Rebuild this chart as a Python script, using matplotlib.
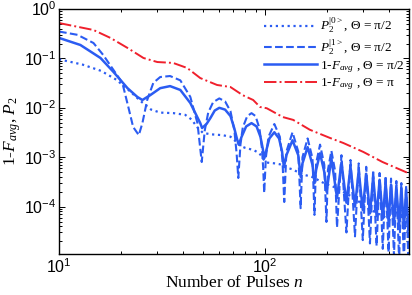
import numpy as np
import matplotlib
matplotlib.use('Agg')
import matplotlib.pyplot as plt
from matplotlib.ticker import FixedLocator, FuncFormatter, NullFormatter

plt.rcParams['mathtext.fontset'] = 'custom'
plt.rcParams['mathtext.rm'] = 'Liberation Serif'
plt.rcParams['mathtext.it'] = 'Liberation Serif:italic'
plt.rcParams['mathtext.sf'] = 'Liberation Sans'
plt.rcParams['font.family'] = ['Liberation Serif', 'DejaVu Serif']

# ---- data ----
n_p0 = [10, 13, 16, 19, 22, 25, 28, 31, 36, 41, 44, 47, 50, 55, 62, 68, 72, 76, 80, 88,
        94, 98, 102, 112, 118, 122, 126, 136, 143, 151, 162, 172, 180, 190, 200, 212,
        225, 250, 267, 290, 322, 350, 375, 404, 430, 460, 500]
p0 = [0.096, 0.075, 0.056, 0.037, 0.022, 0.0135, 0.0092, 0.0080, 0.0078, 0.0072, 0.0058,
      0.0040, 0.0031, 0.0029, 0.0028, 0.0026, 0.0021, 0.0017, 0.00155, 0.0014, 0.0012,
      0.00092, 0.00078, 0.00075, 0.00072, 0.00068, 0.00062, 0.00057, 0.00051, 0.00045,
      0.00042, 0.00039, 0.00035, 0.00031, 0.00028, 0.00026, 0.00023, 0.00018, 0.000156,
      0.00012, 8.8e-5, 7.4e-5, 6.4e-5, 5.4e-5, 4.6e-5, 4.0e-5, 3.4e-5]

n_p1 = [10, 12.3, 14.7, 16.4, 18.4, 20.3, 21.7, 22.9, 24.4, 25.4, 26.8, 28.7, 31, 34.6,
        38.8, 43.4, 47, 49.3, 51, 53, 56, 60, 64, 68, 71, 72.8, 74.2,
        76, 78, 82, 86, 90, 94, 96.5, 98, 99.1,
        101, 104, 111, 118, 121.5, 124,
        127, 136, 145, 148.9,
        152, 161, 170, 173.8,
        177, 185, 194, 198.7,
        202, 210, 219, 223.6,
        235, 248.5, 260, 273.4, 285, 298.3, 310, 323.2, 335, 348.1, 360, 373,
        385, 397.9, 409, 422.8, 434, 447.7, 459, 472.6, 484, 497.5, 500]
p1 = [0.35, 0.30, 0.205, 0.117, 0.058, 0.032, 0.0104, 0.0041, 0.0028, 0.0049, 0.0144,
      0.032, 0.042, 0.044, 0.036, 0.0166, 0.0049, 0.0008, 0.0035, 0.008, 0.013, 0.0155,
      0.0135, 0.0085, 0.0035, 0.0012, 0.00038,
      0.0018, 0.004, 0.0068, 0.0078, 0.0068, 0.0038, 0.0016, 0.0006, 0.00019,
      0.001, 0.0026, 0.0047, 0.0026, 0.0009, 0.000124,
      0.0013, 0.0032, 0.0013, 9.3e-5,
      0.001, 0.0024, 0.00095, 6.8e-5,
      0.00075, 0.0018, 0.0007, 4.9e-5,
      0.00055, 0.00135, 0.00052, 3.8e-5,
      0.0011, 3.0e-5, 0.00088, 2.5e-5, 0.00075, 2.1e-5, 0.00064, 1.8e-5, 0.00055, 1.6e-5,
      0.00048, 1.4e-5, 0.00042, 1.2e-5, 0.00037, 1.0e-5, 0.00033, 8e-6, 0.0003, 7e-6,
      0.00027, 6e-6, 3e-5]

n_f1 = [10, 12.7, 15.9, 18.4, 21.5, 24, 25.4, 27.7, 31, 34.6, 38.8, 43.4, 48.5, 49.5,
        52, 54.3, 57, 60, 64, 68, 71, 73, 74.5,
        77, 81, 86, 91, 95, 97.5, 99.3,
        102, 105, 111, 117, 121, 123.5,
        127, 136, 145, 149,
        152, 161, 170, 174,
        177, 185, 194, 199,
        210, 223.6, 235, 248.5, 260, 273.4, 285, 298.3, 310, 323.2, 335, 348.1,
        360, 373, 385, 397.9, 409, 422.8, 434, 447.7, 459, 472.6, 484, 497.5, 500]
f1 = [0.26, 0.187, 0.102, 0.053, 0.025, 0.0166, 0.0144, 0.018, 0.025, 0.0275, 0.023,
      0.0125, 0.0049, 0.0039, 0.0047, 0.0062, 0.0088, 0.010, 0.0092, 0.0068, 0.0038,
      0.0024, 0.0018,
      0.0026, 0.0042, 0.0049, 0.0042, 0.0026, 0.0015, 0.00096,
      0.0015, 0.0024, 0.0032, 0.0024, 0.0013, 0.00063,
      0.0011, 0.0022, 0.0011, 0.0004,
      0.00075, 0.0016, 0.0007, 0.0003,
      0.00055, 0.0012, 0.0005, 0.0002,
      0.00095, 0.00015, 0.00078, 0.00012, 0.00064, 0.0001, 0.00054, 8.5e-5, 0.00046,
      7.3e-5, 0.0004, 6.4e-5, 0.00035, 5.7e-5, 0.00031, 5.0e-5, 0.00028, 4.5e-5,
      0.00026, 4.0e-5, 0.00024, 3.6e-5, 0.00022, 3.3e-5, 5e-5]

n_fpi = [10, 14.7, 17.8, 21.5, 25.7, 30, 35.8, 41.9, 48.5, 58.5, 67.9, 78, 87.6, 94.6,
         102, 122, 137, 165, 207, 240, 300, 372, 500]
fpi = [0.52, 0.376, 0.259, 0.163, 0.102, 0.0845, 0.081, 0.064, 0.040, 0.029, 0.0264,
       0.018, 0.0144, 0.0104, 0.0098, 0.0065, 0.0057, 0.0036, 0.00245, 0.00194, 0.00128,
       0.00080, 0.00047]

labels = [r'$P_2^{|0>}$, Θ = π/2', r'$P_2^{|1>}$, Θ = π/2',
          r'$1$-$F_{avg}$ , Θ = π/2', r'$1$-$F_{avg}$ , Θ = π']

blue = '#2b5cf2'
red = '#f0202c'

fig = plt.figure(figsize=(4.12, 2.95), dpi=100)
ax = fig.add_axes([59 / 412, 41 / 295, 350 / 412, 245 / 295])

ax.plot(n_p0, p0, linestyle=':', color=blue, lw=1.6, label=labels[0])
ax.plot(n_p1, p1, linestyle='--', color=blue, lw=1.5, label=labels[1])
ax.plot(n_f1, f1, linestyle='-', color=blue, lw=1.8, label=labels[2])
ax.plot(n_fpi, fpi, linestyle='-.', color=red, lw=1.4, label=labels[3])

ax.set_xscale('log')
ax.set_yscale('log')
ax.set_xlim(10, 500)
ax.set_ylim(1.1e-5, 1)

ax.xaxis.set_major_locator(FixedLocator([10, 100]))
ax.yaxis.set_major_locator(FixedLocator([1e-4, 1e-3, 1e-2, 1e-1, 1]))
fmt = FuncFormatter(lambda v, p: r'$\mathsf{10^{%d}}$' % int(round(np.log10(v))))
ax.xaxis.set_major_formatter(fmt)
ax.yaxis.set_major_formatter(fmt)
ax.xaxis.set_minor_formatter(NullFormatter())
ax.yaxis.set_minor_formatter(NullFormatter())

ax.tick_params(which='both', direction='in', top=True, right=True, width=0.7,
               labelsize=11.5, colors='black')
ax.tick_params(which='major', length=4)
ax.tick_params(which='minor', length=2)
ax.tick_params(axis='x', pad=3)
ax.tick_params(axis='y', pad=2)
for s in ax.spines.values():
    s.set_linewidth(1.0)

ax.set_xlabel(r'Number of Pulses $n$', fontsize=12.5, labelpad=-1)
ax.set_ylabel(r'$1$-$F_{avg}$, $P_2$', fontsize=12.5, labelpad=1)

leg = ax.legend(loc='upper right', bbox_to_anchor=(1.01, 1.005), frameon=False,
                fontsize=9.5, handlelength=4.0, handletextpad=0.25,
                labelspacing=0.15, borderaxespad=0.2)

fig.savefig('out.png', dpi=100)
